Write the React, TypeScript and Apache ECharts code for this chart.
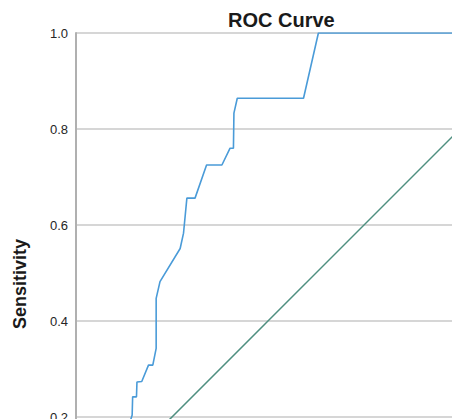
import React, { useEffect, useRef } from "react";
import * as echarts from "echarts";

// ROC curve points: 1 - specificity (false positive rate) and sensitivity
const fpr = [0, 0.02, 0.05, 0.08, 0.1, 0.117, 0.118, 0.126, 0.127, 0.137, 0.151, 0.16, 0.167, 0.167, 0.175, 0.217, 0.224, 0.231, 0.248, 0.272, 0.304, 0.321, 0.328, 0.329, 0.336, 0.474, 0.505, 1.0];
const sensitivity = [0, 0.03, 0.07, 0.11, 0.15, 0.204, 0.242, 0.242, 0.273, 0.274, 0.308, 0.308, 0.343, 0.447, 0.482, 0.551, 0.583, 0.656, 0.656, 0.725, 0.725, 0.76, 0.76, 0.833, 0.864, 0.864, 1.0, 1.0];
// Reference line
const refX = [0, 1];
const refY = [0, 1];
const yTicks = [0, 0.2, 0.4, 0.6, 0.8, 1.0];

export default function App() {
  const ref = useRef<HTMLDivElement>(null);
  useEffect(() => {
    if (!ref.current) return;
    const chart = echarts.init(ref.current, null, { renderer: "svg" });
    const font = "'Liberation Sans', Arial, sans-serif";
    chart.setOption({
      animation: false,
      backgroundColor: "#ffffff",
      title: {
        text: "ROC Curve",
        left: 223,
        top: 5,
        textStyle: { fontSize: 20, fontWeight: "bold", color: "#1a1a1a", fontFamily: font },
      },
      graphic: [
        {
          type: "text",
          x: 20,
          y: 284,
          rotation: Math.PI / 2,
          style: {
            text: "Sensitivity",
            font: `bold 18px ${font}`,
            fill: "#1a1a1a",
            align: "center",
            verticalAlign: "middle",
          },
        },
      ],
      grid: { left: 76, top: 33, width: 480, height: 480, containLabel: false },
      xAxis: {
        type: "value",
        min: 0,
        max: 1,
        interval: 0.2,
        axisLine: { show: false },
        axisTick: { show: false },
        axisLabel: { show: false },
        splitLine: { show: false },
      },
      yAxis: {
        type: "value",
        min: 0,
        max: 1,
        interval: 0.2,
        axisLine: { show: true, lineStyle: { color: "#b0b0b0", width: 2 } },
        axisTick: { show: false },
        axisLabel: {
          margin: 8,
          fontSize: 13,
          color: "#262626",
          fontFamily: font,
          padding: [5, 0, 0, 0],
          formatter: (v: number) => (yTicks.includes(Math.round(v * 10) / 10) ? v.toFixed(1) : ""),
        },
        splitLine: { show: true, lineStyle: { color: "#d6d6d6", width: 2 } },
      },
      series: [
        {
          type: "line",
          data: refX.map((x, i) => [x, refY[i]]),
          symbol: "none",
          lineStyle: { color: "#4f8f80", width: 1.5 },
          z: 2,
        },
        {
          type: "line",
          data: fpr.map((x, i) => [x, sensitivity[i]]),
          symbol: "none",
          lineStyle: { color: "#4a9bd8", width: 1.6 },
          z: 3,
        },
      ],
    });
    return () => chart.dispose();
  }, []);
  return (
    <div
      style={{ position: "fixed", left: 0, top: 0, width: 452, height: 419, overflow: "hidden", background: "#fff" }}
    >
      <div ref={ref} style={{ position: "absolute", left: 0, top: 0, width: 600, height: 560 }} />
    </div>
  );
}
